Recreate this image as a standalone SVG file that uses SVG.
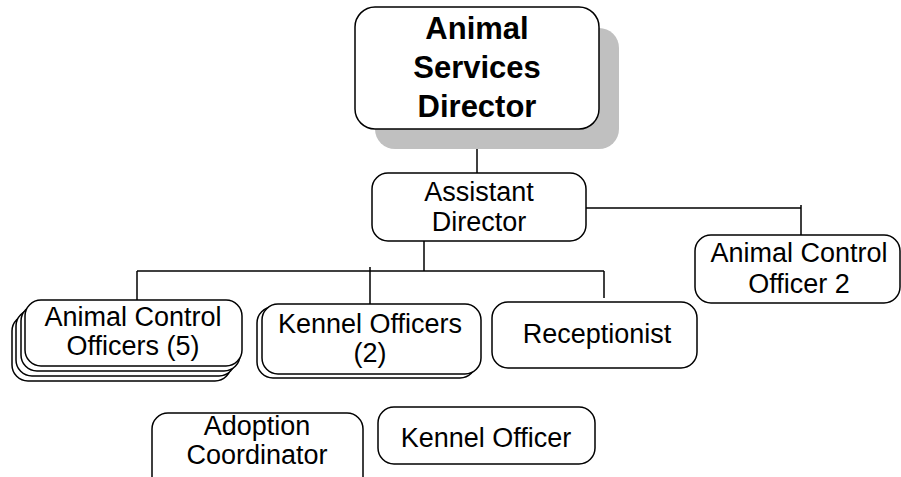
<svg xmlns="http://www.w3.org/2000/svg" width="901" height="477" viewBox="0 0 901 477">
<style>
.box{fill:#fff;stroke:#000;stroke-width:1.5}
.shadow{fill:#c0c0c0;stroke:none}
.t{font-family:"Liberation Sans",Arial,sans-serif;font-size:27px;text-anchor:middle;fill:#000}
.tb{font-family:"Liberation Sans",Arial,sans-serif;font-size:31px;font-weight:bold;text-anchor:middle;fill:#000}
.ln{stroke:#000;stroke-width:1.5;fill:none}
</style>
<rect width="901" height="477" fill="#fff"/>
<g id="connectors">
<path class="ln" d="M477 129V173"/>
<path class="ln" d="M586 208H801M801 205V235"/>
<path class="ln" d="M424 241V271"/>
<path class="ln" d="M137 271H604"/>
<path class="ln" d="M137 271V300"/>
<path class="ln" d="M370 267V304"/>
<path class="ln" d="M604 271V298"/>
</g>
<g id="director">
<rect class="shadow" x="375" y="28" width="244" height="121" rx="20"/>
<rect class="box" x="355" y="7" width="244" height="122" rx="20"/>
<text class="tb" x="477" y="39">Animal</text>
<text class="tb" x="477" y="78">Services</text>
<text class="tb" x="477" y="117">Director</text>
</g>
<g id="assistant">
<rect class="box" x="372" y="173" width="214" height="68" rx="16"/>
<text class="t" x="479" y="201">Assistant</text>
<text class="t" x="479" y="231">Director</text>
</g>
<g id="aco2">
<rect class="box" x="695" y="235" width="205" height="68" rx="16"/>
<text class="t" x="799" y="262">Animal Control</text>
<text class="t" x="799" y="293">Officer 2</text>
</g>
<g id="aco5">
<rect class="box" x="12" y="315" width="219" height="66" rx="16"/>
<rect class="box" x="16" y="310" width="219" height="66" rx="16"/>
<rect class="box" x="21" y="305" width="219" height="66" rx="16"/>
<rect class="box" x="25" y="300" width="217" height="66" rx="16"/>
<text class="t" x="133" y="326">Animal Control</text>
<text class="t" x="133" y="355">Officers (5)</text>
</g>
<g id="kennel2">
<rect class="box" x="257" y="307" width="219" height="71" rx="16"/>
<rect class="box" x="262" y="304" width="219" height="70" rx="16"/>
<text class="t" x="370" y="333">Kennel Officers</text>
<text class="t" x="370" y="362">(2)</text>
</g>
<g id="receptionist">
<rect class="box" x="492" y="302" width="205" height="66" rx="16"/>
<text class="t" x="597" y="343">Receptionist</text>
</g>
<g id="adoption">
<rect class="box" x="152" y="413" width="211" height="80" rx="16"/>
<text class="t" x="257" y="435">Adoption</text>
<text class="t" x="257" y="464">Coordinator</text>
</g>
<g id="kennel1">
<rect class="box" x="378" y="407" width="217" height="57" rx="16"/>
<text class="t" x="486" y="447">Kennel Officer</text>
</g>
</svg>
